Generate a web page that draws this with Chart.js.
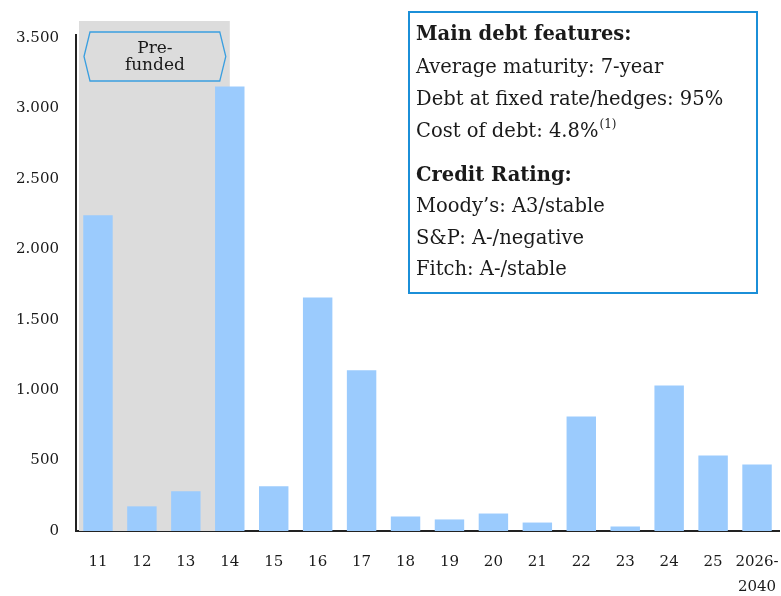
<!DOCTYPE html>
<html>
<head>
<meta charset="utf-8">
<script src="https://cdn.jsdelivr.net/npm/chart.js@4/dist/chart.umd.min.js"></script>
<style>
  html, body { margin: 0; padding: 0; background: #ffffff; overflow: hidden; }
  #wrap { width: 781px; height: 596px; position: relative; }
  canvas { display: block; }
</style>
</head>
<body>
<div id="wrap"><canvas id="debt"></canvas></div>
<script>
// Debt maturity profile (millions)
const maturityYears = ['11', '12', '13', '14', '15', '16', '17', '18', '19', '20', '21', '22', '23', '24', '25', ['2026-', '2040']];
const maturityAmounts = [2240, 175, 282, 3155, 318, 1657, 1140, 103, 82, 124, 60, 813, 32, 1033, 536, 472];
const yTickValues = [0, 500, 1000, 1500, 2000, 2500, 3000, 3500];
const yTickLabels = ['0', '500', '1.000', '1.500', '2.000', '2.500', '3.000', '3.500'];
const prefundedLabel = ['Pre-', 'funded'];
const prefundedLastIndex = 3; // shaded band runs up to the centre of this year
const featuresTitle = 'Main debt features:';
const featuresLines = ['Average maturity: 7-year', 'Debt at fixed rate/hedges: 95%', 'Cost of debt: 4.8%'];
const costFootnote = '(1)';
const ratingTitle = 'Credit Rating:';
const ratingLines = ["Moody\u2019s: A3/stable", 'S&P: A-/negative', 'Fitch: A-/stable'];

const SERIF = '"DejaVu Serif", "Liberation Serif", serif';
const INK = '#1a1a1a';

const annotations = {
  id: 'annotations',
  beforeDatasetsDraw(chart) {
    const { ctx, chartArea, scales } = chart;
    const x = scales.x;
    const bandRight = x.getPixelForValue(prefundedLastIndex);
    ctx.save();
    ctx.fillStyle = '#dcdcdc';
    ctx.fillRect(chartArea.left + 3, 21, bandRight - chartArea.left - 3, chartArea.bottom - 21);
    ctx.restore();
  },
  afterDraw(chart) {
    const { ctx, chartArea, scales } = chart;
    const x = scales.x;
    const bandRight = x.getPixelForValue(prefundedLastIndex);

    // hexagonal "Pre-funded" tag
    const l = chartArea.left + 8, r = bandRight - 4, t = 32, b = 81, m = (t + b) / 2, n = 6;
    ctx.save();
    ctx.beginPath();
    ctx.moveTo(l, m);
    ctx.lineTo(l + n, t);
    ctx.lineTo(r - n, t);
    ctx.lineTo(r, m);
    ctx.lineTo(r - n, b);
    ctx.lineTo(l + n, b);
    ctx.closePath();
    ctx.strokeStyle = '#3a9fe0';
    ctx.lineWidth = 1.3;
    ctx.stroke();
    ctx.fillStyle = INK;
    ctx.font = '17px ' + SERIF;
    ctx.textAlign = 'center';
    ctx.textBaseline = 'alphabetic';
    const cx = (l + r) / 2;
    ctx.fillText(prefundedLabel[0], cx, 53);
    ctx.fillText(prefundedLabel[1], cx, 70);
    ctx.restore();

    // info box
    ctx.save();
    ctx.fillStyle = '#ffffff';
    ctx.fillRect(409, 12, 348, 281);
    ctx.strokeStyle = '#1b8fd8';
    ctx.lineWidth = 2;
    ctx.strokeRect(409, 12, 348, 281);
    ctx.fillStyle = INK;
    ctx.textAlign = 'left';
    ctx.textBaseline = 'alphabetic';
    const tx = 416;
    ctx.font = 'bold 19.5px ' + SERIF;
    ctx.fillText(featuresTitle, tx, 40);
    ctx.font = '19.5px ' + SERIF;
    const fy = [73, 105, 137];
    featuresLines.forEach((s, i) => ctx.fillText(s, tx, fy[i]));
    const w = ctx.measureText(featuresLines[2]).width;
    ctx.font = '12px ' + SERIF;
    ctx.fillText(costFootnote, tx + w + 1, 128);
    ctx.font = 'bold 19.5px ' + SERIF;
    ctx.fillText(ratingTitle, tx, 181);
    ctx.font = '19.5px ' + SERIF;
    const ry = [212, 244, 275];
    ratingLines.forEach((s, i) => ctx.fillText(s, tx, ry[i]));
    ctx.restore();
  }
};

new Chart(document.getElementById('debt'), {
  type: 'bar',
  data: {
    labels: maturityYears,
    datasets: [{
      data: maturityAmounts,
      backgroundColor: '#9bcbfd',
      borderWidth: 0,
      categoryPercentage: 1,
      barPercentage: 0.67
    }]
  },
  options: {
    responsive: true,
    maintainAspectRatio: false,
    animation: false,
    devicePixelRatio: 1,
    layout: { padding: { top: 35, right: 2, left: 0, bottom: 0 } },
    plugins: { legend: { display: false }, tooltip: { enabled: false } },
    scales: {
      x: {
        grid: { display: false, drawTicks: false },
        border: { display: true, color: '#222222', width: 2 },
        ticks: {
          color: INK,
          font: { family: SERIF, size: 15, lineHeight: 1.65 },
          padding: 19,
          maxRotation: 0,
          autoSkip: false
        },
        afterFit(scale) {
          scale.height = 65;
          scale.paddingLeft = 0;
          scale.paddingRight = 0;
        }
      },
      y: {
        min: 0,
        max: 3520,
        grid: { display: false, drawTicks: false },
        border: { display: true, color: '#222222', width: 2 },
        afterBuildTicks(scale) { scale.ticks = yTickValues.map(v => ({ value: v })); },
        ticks: {
          color: INK,
          font: { family: SERIF, size: 15 },
          padding: 17,
          callback(value) {
            const i = yTickValues.indexOf(value);
            return i >= 0 ? yTickLabels[i] : '';
          }
        },
        afterFit(scale) {
          scale.width = 76;
          scale.paddingTop = 0;
          scale.paddingBottom = 0;
        }
      }
    }
  },
  plugins: [annotations]
});
</script>
</body>
</html>
